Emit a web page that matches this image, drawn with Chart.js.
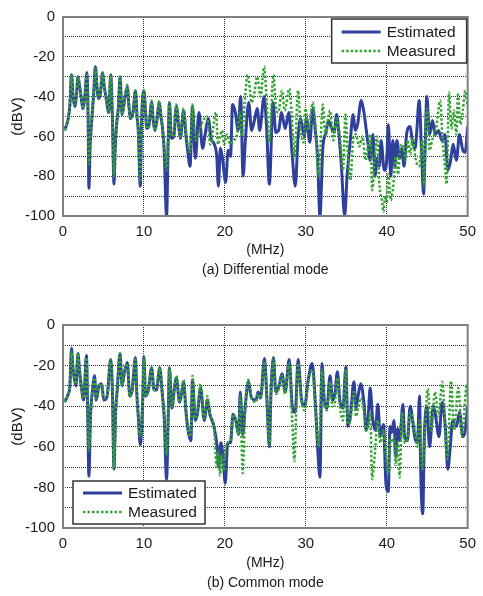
<!DOCTYPE html>
<html>
<head>
<meta charset="utf-8">
<script src="https://cdn.jsdelivr.net/npm/chart.js@4.4.0/dist/chart.umd.min.js"></script>
<style>
  body { margin: 0; background: #fff; width: 483px; height: 596px; overflow: hidden; position: relative; }
  canvas { position: absolute; left: 0; }
  #dm { top: 0; }
  #cm { top: 300px; }
</style>
</head>
<body>
<canvas id="dm" width="483" height="280" style="width:483px;height:280px"></canvas>
<canvas id="cm" width="483" height="296" style="width:483px;height:296px"></canvas>
<script>
// (a) differential mode, frequency in MHz and level in dBV
const dmEstFreq = [
  0.2, 0.65, 0.85, 1.05, 1.25, 1.45, 1.65, 1.85, 2.1, 2.3,
  2.45, 2.7, 2.95, 3.1, 3.2, 3.35, 3.5, 3.8, 4.0, 4.2,
  4.35, 4.6, 4.9, 5.1, 5.3, 5.65, 5.9, 6.1, 6.3, 6.45,
  6.6, 6.85, 7.05, 7.3, 7.6, 7.95, 8.15, 8.35, 8.65, 8.95,
  9.15, 9.3, 9.55, 9.7, 10.0, 10.2, 10.35, 10.6, 10.95, 11.15,
  11.35, 11.6, 11.9, 12.1, 12.3, 12.5, 12.8, 13.0, 13.15, 13.4,
  13.7, 14.0, 14.3, 14.5, 14.9, 15.2, 15.4, 15.7, 16.0, 16.35,
  16.8, 17.25, 17.6, 17.95, 18.3, 18.7, 19.0, 19.2, 19.45, 19.7,
  20.1, 20.4, 20.7, 20.95, 21.3, 21.65, 21.95, 22.25, 22.55, 22.95,
  23.3, 23.65, 24.0, 24.3, 24.85, 25.15, 25.5, 25.95, 26.3, 26.65,
  27.0, 27.45, 27.9, 28.3, 28.7, 29.05, 29.35, 29.8, 30.1, 30.5,
  30.85, 31.2, 31.45, 31.75, 32.1, 32.5, 32.8, 33.2, 33.5, 33.8,
  34.1, 34.4, 34.8, 35.1, 35.5, 35.85, 36.1, 36.4, 36.85, 37.15,
  37.45, 37.7, 37.95, 38.3, 38.55, 38.8, 39.1, 39.3, 39.7, 40.0,
  40.2, 40.5, 40.75, 41.0, 41.25, 41.6, 41.85, 42.15, 42.45, 42.9,
  43.15, 43.5, 43.7, 44.0, 44.3, 44.55, 44.75, 44.95, 45.3, 45.65,
  46.0, 46.4, 46.8, 47.2, 47.55, 47.9, 48.2, 48.6, 49.0, 49.4,
  49.7, 50.0
]
const dmEst = [
  -57, -51, -44, -29, -40, -45, -40, -30, -36, -42,
  -46, -40, -28, -50, -86, -65, -55, -38, -25, -35,
  -41, -39, -28, -35, -40, -48, -29, -50, -84, -66,
  -55, -45, -30, -49, -42, -35, -45, -51, -48, -37,
  -50, -57, -85, -53, -37, -48, -56, -55, -43, -52,
  -57, -52, -43, -50, -56, -67, -100, -62, -43, -61,
  -60, -45, -55, -61, -47, -60, -67, -75, -45, -71,
  -48, -66, -58, -51, -61, -64, -70, -85, -66, -71,
  -83, -67, -70, -44, -48, -57, -40, -80, -61, -43,
  -57, -52, -46, -57, -40, -55, -84, -43, -58, -57,
  -48, -56, -48, -68, -85, -60, -51, -60, -51, -63,
  -46, -58, -70, -100, -66, -58, -52, -56, -58, -49,
  -59, -75, -100, -80, -62, -49, -57, -54, -42, -47,
  -56, -64, -72, -59, -80, -71, -75, -62, -77, -72,
  -54, -80, -62, -75, -62, -71, -66, -75, -59, -55,
  -62, -66, -58, -42, -67, -89, -65, -40, -59, -52,
  -59, -57, -62, -59, -77, -72, -64, -72, -59, -67,
  -68, -55
]
const dmMeasFreq = [
  0.2, 0.65, 0.85, 1.05, 1.25, 1.45, 1.65, 1.85, 2.1, 2.3,
  2.45, 2.7, 2.95, 3.1, 3.2, 3.35, 3.5, 3.8, 4.0, 4.2,
  4.35, 4.6, 4.9, 5.1, 5.3, 5.65, 5.9, 6.1, 6.3, 6.45,
  6.6, 6.85, 7.05, 7.3, 7.6, 7.95, 8.15, 8.35, 8.65, 8.95,
  9.15, 9.3, 9.55, 9.7, 10.0, 10.2, 10.35, 10.6, 10.95, 11.15,
  11.35, 11.6, 11.9, 12.1, 12.3, 12.5, 12.8, 13.0, 13.15, 13.4,
  13.7, 14.0, 14.3, 14.5, 14.9, 15.2, 15.4, 15.7, 16.0, 16.35,
  16.8, 17.2, 17.8, 18.2, 18.9, 19.15, 19.4, 19.65, 19.9, 20.25,
  20.65, 21.05, 21.45, 21.9, 22.1, 22.5, 22.8, 23.0, 23.3, 23.6,
  24.0, 24.4, 24.85, 25.2, 25.5, 26.0, 26.3, 26.6, 27.05, 27.4,
  27.95, 28.25, 28.6, 29.05, 29.35, 29.75, 29.95, 30.35, 30.85, 31.2,
  31.6, 32.1, 32.3, 32.5, 32.8, 33.0, 33.4, 33.8, 34.2, 34.6,
  34.9, 35.2, 35.5, 35.9, 36.2, 36.6, 37.0, 37.4, 37.7, 38.0,
  38.2, 38.5, 38.8, 39.1, 39.4, 39.6, 39.8, 40.0, 40.2, 40.5,
  40.8, 41.1, 41.4, 41.7, 42.0, 42.3, 42.6, 42.9, 43.2, 43.6,
  44.0, 44.4, 44.6, 44.8, 45.0, 45.3, 45.6, 46.1, 46.6, 46.9,
  47.2, 47.4, 47.7, 48.0, 48.3, 48.6, 48.8, 49.1, 49.4, 49.7,
  50.0
]
const dmMeas = [
  -57, -51, -44, -29, -40, -44, -40, -30, -36, -42,
  -46, -40, -29, -50, -74, -62, -54, -38, -26, -35,
  -41, -39, -28, -35, -40, -48, -29, -50, -80, -64,
  -55, -45, -30, -49, -42, -34, -45, -51, -48, -37,
  -50, -57, -82, -53, -37, -48, -56, -55, -42, -52,
  -57, -52, -42, -50, -56, -65, -77, -60, -43, -60,
  -59, -44, -55, -60, -46, -58, -64, -68, -44, -62,
  -58, -53, -50, -64, -48, -64, -60, -57, -64, -59,
  -64, -62, -60, -48, -60, -40, -29, -33, -43, -39,
  -30, -40, -25, -45, -63, -29, -45, -48, -37, -47,
  -36, -48, -71, -37, -56, -63, -46, -57, -43, -55,
  -80, -44, -55, -59, -50, -47, -62, -51, -60, -77,
  -49, -70, -82, -60, -59, -65, -60, -72, -65, -59,
  -87, -72, -60, -85, -92, -98, -90, -93, -79, -92,
  -85, -70, -79, -65, -64, -72, -62, -69, -61, -72,
  -75, -62, -85, -59, -46, -67, -62, -56, -42, -62,
  -75, -84, -38, -56, -47, -59, -39, -54, -47, -37,
  -45
]

// (b) common mode
const cmEstFreq = [
  0.2, 0.65, 0.85, 1.05, 1.2, 1.35, 1.6, 1.85, 2.05, 2.25,
  2.55, 2.9, 3.05, 3.2, 3.4, 3.65, 3.9, 4.1, 4.45, 4.75,
  5.05, 5.45, 5.9, 6.1, 6.3, 6.5, 6.7, 7.05, 7.3, 7.6,
  7.95, 8.25, 8.55, 8.95, 9.1, 9.3, 9.55, 9.85, 10.0, 10.2,
  10.55, 10.95, 11.25, 11.55, 11.95, 12.25, 12.5, 12.8, 13.0, 13.15,
  13.45, 13.8, 14.0, 14.4, 14.6, 14.9, 15.2, 15.5, 15.8, 16.0,
  16.35, 16.6, 17.0, 17.45, 17.85, 18.15, 18.65, 19.05, 19.25, 19.5,
  19.75, 20.05, 20.35, 20.7, 21.0, 21.35, 21.7, 21.9, 22.2, 22.5,
  22.9, 23.3, 23.85, 24.1, 24.4, 24.9, 25.2, 25.5, 25.7, 26.0,
  26.3, 26.7, 27.05, 27.45, 27.95, 28.35, 28.7, 29.05, 29.45, 29.85,
  30.3, 30.8, 31.2, 31.5, 31.75, 32.0, 32.3, 32.6, 33.0, 33.3,
  33.6, 33.9, 34.2, 34.6, 34.95, 35.2, 35.5, 35.95, 36.2, 36.5,
  36.8, 37.2, 37.45, 37.7, 37.95, 38.25, 38.6, 38.9, 39.2, 39.6,
  39.9, 40.2, 40.4, 40.6, 40.9, 41.1, 41.35, 41.6, 42.0, 42.2,
  42.55, 42.9, 43.2, 43.5, 43.8, 44.05, 44.2, 44.45, 44.65, 44.95,
  45.3, 45.75, 46.05, 46.45, 46.85, 47.2, 47.55, 47.85, 48.15, 48.6,
  49.0, 49.4, 49.7, 50.0
]
const cmEst = [
  -38, -34, -30, -11.5, -20, -25, -30, -14, -23, -30,
  -37, -15, -43, -74.5, -45, -32, -25, -37, -30, -29,
  -37, -35, -17, -32, -71, -43, -32, -14, -30, -23,
  -18.5, -35, -32, -16, -32, -45, -59, -37, -15.5, -35,
  -32, -21, -32, -32, -21, -33, -45, -76, -45, -21,
  -41, -30, -26, -38, -35, -28, -43, -53, -57, -27,
  -47, -44, -31, -47, -37, -44, -50, -60, -70, -58,
  -64, -78, -58, -58, -44, -47, -54, -33, -54, -41,
  -28, -36, -37, -33, -36, -16.5, -37, -60, -33, -16,
  -33, -30, -24, -33, -17, -41, -43, -17, -36, -40,
  -27, -19, -40, -63, -75, -19, -38, -41, -25, -37,
  -34, -23, -37, -41, -20.5, -50, -45, -28, -41, -34,
  -29, -39, -52, -46, -31, -46, -52, -39, -55, -49,
  -78, -82, -50, -53, -47, -65, -51, -57, -39, -55,
  -57, -40, -47, -56, -58, -35, -72, -93, -55, -40,
  -60, -40, -45, -55, -38, -48, -71, -60, -47, -50,
  -43, -55, -52, -40
]
const cmMeasFreq = [
  0.2, 0.65, 0.85, 1.05, 1.2, 1.35, 1.6, 1.85, 2.05, 2.25,
  2.55, 2.9, 3.05, 3.2, 3.4, 3.65, 3.9, 4.1, 4.45, 4.75,
  5.05, 5.45, 5.9, 6.1, 6.3, 6.5, 6.7, 7.05, 7.3, 7.6,
  7.95, 8.25, 8.55, 8.95, 9.1, 9.3, 9.55, 9.85, 10.0, 10.2,
  10.55, 10.95, 11.25, 11.55, 11.95, 12.25, 12.5, 12.8, 13.0, 13.15,
  13.45, 13.8, 14.0, 14.4, 14.6, 14.9, 15.2, 15.5, 15.8, 16.0,
  16.35, 16.6, 17.0, 17.45, 17.85, 18.15, 18.65, 19.0, 19.2, 19.4,
  19.6, 19.85, 20.05, 20.35, 20.7, 21.0, 21.35, 21.7, 21.9, 22.2,
  22.5, 22.9, 23.3, 23.85, 24.1, 24.4, 24.9, 25.2, 25.5, 25.7,
  26.0, 26.3, 26.7, 27.05, 27.45, 27.95, 28.3, 28.6, 28.8, 29.05,
  29.45, 29.85, 30.3, 30.8, 31.2, 31.6, 32.0, 32.3, 32.6, 33.0,
  33.3, 33.6, 33.9, 34.2, 34.6, 34.95, 35.2, 35.5, 35.95, 36.2,
  36.5, 36.8, 37.2, 37.45, 37.7, 37.95, 38.2, 38.5, 38.9, 39.2,
  39.6, 39.9, 40.2, 40.4, 40.6, 40.9, 41.1, 41.35, 41.6, 41.9,
  42.2, 42.55, 42.9, 43.2, 43.5, 43.8, 44.05, 44.4, 44.7, 45.05,
  45.5, 45.95, 46.4, 46.85, 47.5, 47.95, 48.3, 48.85, 49.3, 49.9,
  50.0
]
const cmMeas = [
  -38, -34, -30, -13, -20, -25, -29, -14, -23, -30,
  -36, -16, -42, -62, -45, -32, -26, -36, -30, -29,
  -36, -35, -17, -32, -71, -43, -32, -14, -30, -23,
  -19, -35, -32, -17, -32, -45, -55, -37, -16, -35,
  -32, -21, -32, -31, -21, -33, -45, -64, -44, -21,
  -40, -30, -25, -38, -35, -27, -42, -52, -55, -25,
  -46, -43, -29, -46, -35, -44, -50, -70, -62, -74,
  -64, -72, -62, -58, -57, -44, -47, -54, -35, -73,
  -42, -27, -36, -38, -34, -36, -18, -38, -59, -34,
  -17, -34, -31, -25, -34, -19, -45, -67, -45, -19,
  -37, -42, -28, -22, -42, -60, -22, -38, -42, -28,
  -40, -38, -26, -40, -47, -22, -49, -47, -33, -45,
  -40, -36, -43, -52, -50, -43, -76, -65, -47, -58,
  -52, -64, -73, -56, -58, -55, -69, -58, -75, -43,
  -58, -56, -43, -46, -53, -60, -47, -71, -55, -31.5,
  -52, -33, -45, -28, -66, -27.6, -52, -31, -55, -29,
  -35
]

const seriesLabels = ["Estimated", "Measured"]
const xTicks = [0, 10, 20, 30, 40, 50]

const blue = "#2e3f9c"
const green = "#34a334"
const textColor = "#1a1a1a"

function points(freq, vals) {
  var out = []
  for (let i = 0; i < freq.length; i++) {
    out.push({ x: freq[i], y: vals[i] })
  }
  return out
}

// frame round the plot area plus the boxed legend
const framePlugin = {
  id: "frame",
  afterDatasetsDraw(chart, args, opts) {
    const ctx = chart.ctx
    const a = chart.chartArea
    ctx.save()
    ctx.strokeStyle = "#7f7f7f"
    ctx.lineWidth = 2
    ctx.strokeRect(a.left, a.top, a.right - a.left, a.bottom - a.top)

    const b = opts.box
    const x0 = b.fromRight ? a.right - b.dx - b.w : a.left + b.dx
    const y0 = b.fromBottom ? a.bottom - b.dy - b.h : a.top + b.dy
    ctx.fillStyle = "#fff"
    ctx.fillRect(x0, y0, b.w, b.h)
    ctx.strokeStyle = "#333"
    ctx.lineWidth = 1.5
    ctx.strokeRect(x0, y0, b.w, b.h)

    ctx.font = "15.5px 'Liberation Sans', Arial, sans-serif"
    ctx.textBaseline = "middle"
    ctx.textAlign = "left"
    chart.data.datasets.forEach(function(ds, i) {
      const yy = y0 + b.row0 + i * 19
      ctx.save()
      ctx.strokeStyle = ds.borderColor
      ctx.lineWidth = ds.borderWidth
      ctx.setLineDash(ds.borderDash || [])
      ctx.beginPath()
      ctx.moveTo(x0 + 10, yy)
      ctx.lineTo(x0 + 49, yy)
      ctx.stroke()
      ctx.restore()
      ctx.fillStyle = textColor
      ctx.fillText(ds.label, x0 + 55, yy + 1)
    })
    ctx.restore()
  }
}

function makeChart(id, estF, estV, measF, measV, caption, pad, xHeight, box) {
  const ctx = document.getElementById(id)
  return new Chart(ctx, {
    type: "line",
    data: {
      datasets: [
        {
          label: seriesLabels[0],
          data: points(estF, estV),
          borderColor: blue,
          borderWidth: 3,
          pointRadius: 0,
          cubicInterpolationMode: "monotone",
          order: 1
        },
        {
          label: seriesLabels[1],
          data: points(measF, measV),
          borderColor: green,
          borderWidth: 2.5,
          borderDash: [2.5, 2],
          pointRadius: 0,
          cubicInterpolationMode: "monotone",
          order: 0
        }
      ]
    },
    options: {
      responsive: false,
      animation: false,
      events: [],
      layout: {
        padding: { top: pad.top, right: 8, bottom: pad.bottom, left: 0 }
      },
      plugins: {
        legend: { display: false },
        tooltip: { enabled: false },
        frame: { box: box }
      },
      scales: {
        x: {
          type: "linear",
          min: 0,
          max: 50,
          afterBuildTicks: function(scale) {
            scale.ticks = xTicks.map(v => ({ value: v }))
          },
          afterFit: function(scale) {
            scale.height = xHeight
          },
          grid: { color: "#333", lineWidth: 1, drawTicks: false },
          border: { display: false, dash: [1, 1] },
          ticks: {
            padding: 7,
            maxRotation: 0,
            autoSkip: false,
            color: textColor,
            font: { family: "'Liberation Sans', Arial, sans-serif", size: 15 }
          },
          title: {
            display: true,
            text: ["(MHz)", caption],
            color: textColor,
            padding: { top: 0, bottom: 0 },
            font: { family: "'Liberation Sans', Arial, sans-serif", size: 14, lineHeight: 1.43 }
          }
        },
        y: {
          min: -100,
          max: 0,
          afterFit: function(scale) {
            scale.width = 63
          },
          grid: { color: "#333", lineWidth: 1, drawTicks: false },
          border: { display: false, dash: [1, 1] },
          ticks: {
            stepSize: 10,
            padding: 8,
            autoSkip: false,
            color: textColor,
            font: { family: "'Liberation Sans', Arial, sans-serif", size: 15 },
            callback: function(v) {
              return v % 20 === 0 ? String(v) : ""
            }
          },
          title: {
            display: true,
            text: "(dBV)",
            color: textColor,
            padding: { top: 9, bottom: 0 },
            font: { family: "'Liberation Sans', Arial, sans-serif", size: 15 }
          }
        }
      }
    },
    plugins: [framePlugin]
  })
}

makeChart("dm", dmEstFreq, dmEst, dmMeasFreq, dmMeas, "(a) Differential mode",
  { top: 14, bottom: 0 }, 64,
  { fromRight: true, dx: 1, dy: 2, w: 135, h: 44, row0: 13 })

makeChart("cm", cmEstFreq, cmEst, cmMeasFreq, cmMeas, "(b) Common mode",
  { top: 25, bottom: 3 }, 65,
  { fromBottom: true, dx: 10, dy: 4, w: 132, h: 43, row0: 12 })
</script>
</body>
</html>
